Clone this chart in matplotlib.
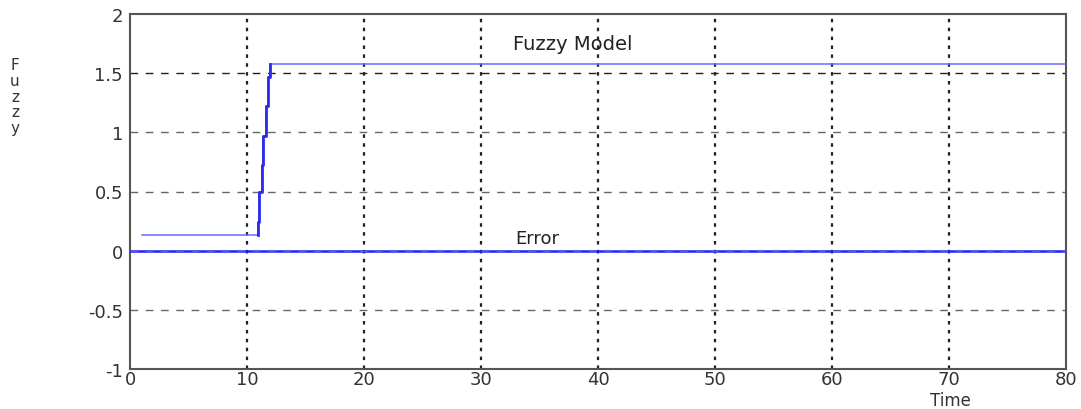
import matplotlib
matplotlib.use("Agg")
import matplotlib.pyplot as plt

# Data
fuzzy_t = [1, 10.9, 10.9, 11.0, 11.0, 11.3, 11.3, 11.4, 11.4, 11.6, 11.6, 11.8, 11.8, 12.0, 12.0, 80]
fuzzy_y = [0.13, 0.13, 0.245, 0.245, 0.5, 0.5, 0.72, 0.72, 0.97, 0.97, 1.22, 1.22, 1.47, 1.47, 1.58, 1.58]
error_t = [0, 80]
error_y = [0.0, 0.0]

x_ticks = [0, 10, 20, 30, 40, 50, 60, 70, 80]
y_ticks = [-1, -0.5, 0, 0.5, 1, 1.5, 2]
y_tick_labels = ["-1", "-0.5", "0", "0.5", "1", "1.5", "2"]

plt.rcParams['font.family'] = ['DejaVu Sans']

fig = plt.figure(figsize=(10.81, 4.10), dpi=100)
ax = fig.add_axes([130/1081, 1 - 370/410, (1066-130)/1081, (370-15)/410])

ax.set_xlim(0, 80)
ax.set_ylim(-1, 2)
ax.set_xticks(x_ticks)
ax.set_yticks(y_ticks)
ax.set_yticklabels(y_tick_labels)
ax.tick_params(length=0, labelsize=13, colors='#333333')
ax.tick_params(axis='x', pad=1)
ax.tick_params(axis='y', pad=5)

for x in x_ticks[1:-1]:
    ax.axvline(x, color='#222222', linestyle=(0, (1.6, 2.4)), linewidth=1.6, zorder=1)
for y in y_ticks[1:-1]:
    col = '#222222' if y == 1.5 else '#666666'
    ax.axhline(y, color=col, linestyle=(0, (5.5, 5.5)), linewidth=1.0,
               zorder=4 if y == 0 else 1)

ax.plot(error_t, error_y, color='#2020ff', linewidth=1.8, zorder=3)
ax.plot(fuzzy_t, fuzzy_y, color='#6a6aff', linewidth=1.1, zorder=3)
# thicker rising portion
ax.plot(fuzzy_t[1:15], fuzzy_y[1:15], color='#2a2aee', linewidth=2.0, zorder=3)

for s in ax.spines.values():
    s.set_color('#555555')
    s.set_linewidth(1.5)

ax.text(37.8, 1.75, "Fuzzy Model", fontsize=14, color='#222222', ha='center', va='center')
ax.text(34.8, 0.105, "Error", fontsize=13, color='#222222', ha='center', va='center')

fig.text(15/1081, 1 - 97/410, "F\nu\nz\nz\ny", fontsize=11, color='#333333',
         ha='center', va='center', linespacing=1.05)
fig.text(950/1081, 1 - 401/410, "Time", fontsize=12, color='#333333', ha='center', va='center')

fig.savefig("out.png", dpi=100)
